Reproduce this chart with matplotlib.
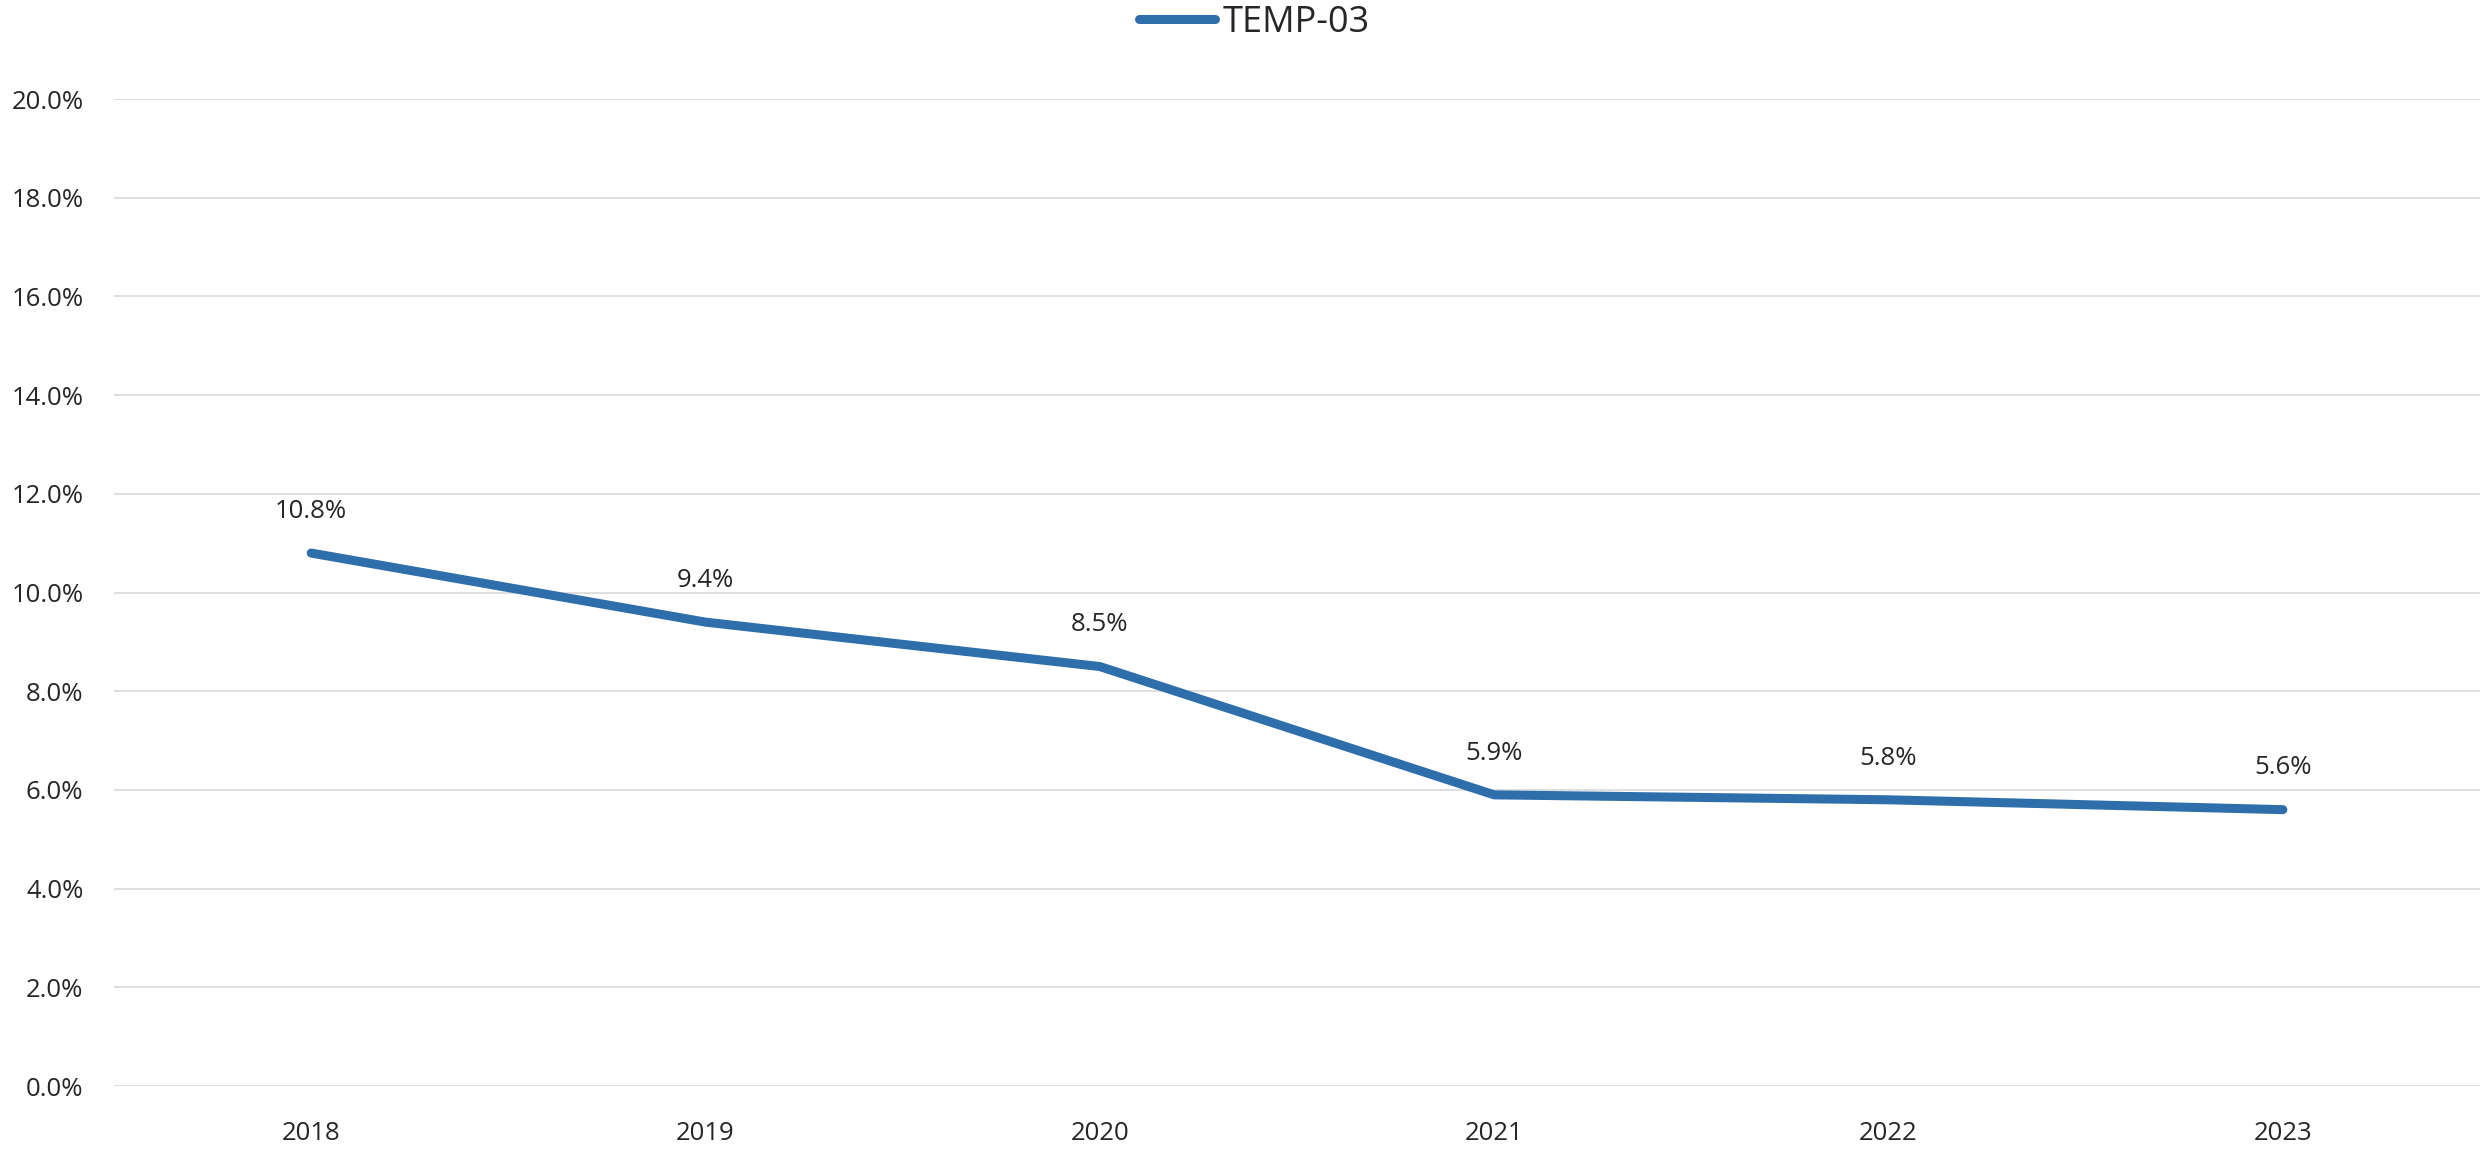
import matplotlib
matplotlib.use("Agg")
import matplotlib.pyplot as plt
from matplotlib.ticker import FuncFormatter, MultipleLocator

years = ["2018", "2019", "2020", "2021", "2022", "2023"]
temp03 = [10.8, 9.4, 8.5, 5.9, 5.8, 5.6]
series_name = "TEMP-03"

plt.rcParams['font.family'] = ['Open Sans', 'DejaVu Sans']

fig = plt.figure(figsize=(24.84, 11.53), dpi=100)
ax = fig.add_axes([0.0459, 0.0581, 0.9525, 0.856])

x = list(range(len(years)))
line, = ax.plot(x, temp03, color="#2E6EAB", linewidth=6.5, solid_capstyle="round",
                solid_joinstyle="round", label=series_name, zorder=3)

# data labels above each point
for xi, v in zip(x, temp03):
    ax.annotate(f"{v:.1f}%", (xi, v), xytext=(0, 30), textcoords="offset points",
                ha="center", va="center", fontsize=18.5, color="#262626")

ax.set_xlim(-0.5, len(years) - 0.5)
ax.set_ylim(0, 20)
ax.yaxis.set_major_locator(MultipleLocator(2))
ax.yaxis.set_major_formatter(FuncFormatter(lambda v, p: f"{v:.1f}%"))
ax.set_xticks(x)
ax.set_xticklabels(years)

ax.grid(axis="y", color="#D9D9D9", linewidth=1.2)
ax.set_axisbelow(True)
for s in ax.spines.values():
    s.set_visible(False)
ax.tick_params(axis="both", length=0, labelsize=18.5, colors="#262626")
ax.tick_params(axis="y", pad=22)
ax.tick_params(axis="x", pad=25)

fig.legend(handles=[line], loc="center", bbox_to_anchor=(0.505, 0.980), frameon=False,
           fontsize=26, handlelength=2.1, handletextpad=0.2, labelcolor="#262626")

fig.savefig("out.png", dpi=100, facecolor="white")
